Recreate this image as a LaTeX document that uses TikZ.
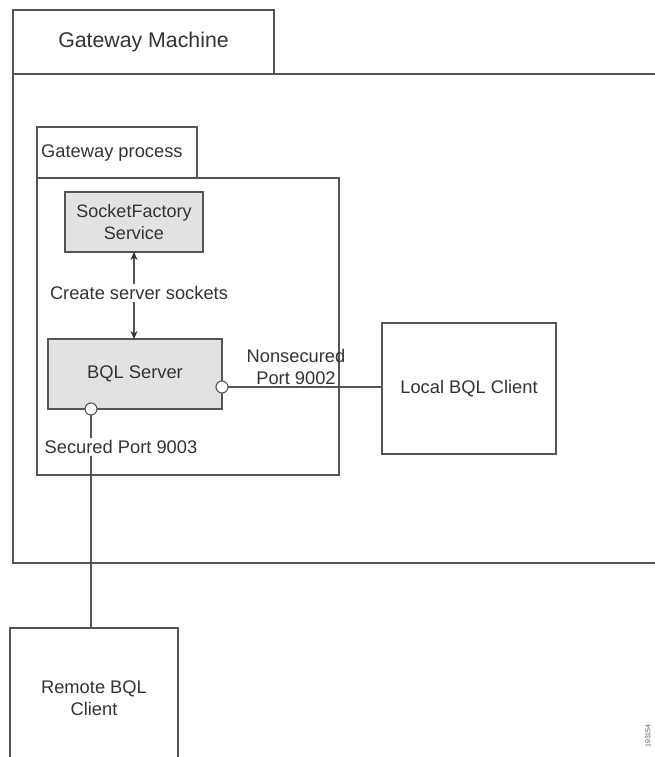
\documentclass[tikz,border=0pt]{standalone}
\usepackage{fontspec}
\setmainfont{Liberation Sans}
\usetikzlibrary{arrows.meta}
\definecolor{txt}{HTML}{333333}
\definecolor{ln}{HTML}{555555}
\definecolor{boxfill}{HTML}{E2E2E2}
\begin{document}
\begin{tikzpicture}[x=1pt,y=-1pt,
  every node/.style={text=txt,font=\fontsize{18.3}{22}\selectfont},
  frame/.style={draw=ln,line width=1.2pt},
  box/.style={draw=ln,line width=1.2pt,anchor=north west,inner sep=0pt,outer sep=0pt,align=center},
  grey/.style={box,fill=boxfill},
  port/.style={circle,draw=ln,fill=white,line width=1.1pt,minimum size=12pt,inner sep=0pt,outer sep=0pt},
  conn/.style={draw=ln,line width=1.1pt},
  tip/.style={-{Stealth[length=8pt,width=7pt,color=txt]}},
  lbl/.style={inner sep=2pt,align=center}]
\useasboundingbox (0,0) rectangle (654,757);
% Gateway machine frame
\node[box,minimum width=261pt,minimum height=64pt,font=\fontsize{21.3}{25}\selectfont] (gmtab) at (13,10) {Gateway Machine};
\draw[frame] (gmtab.south west) -- (13,563) -- (660,563);
\draw[frame] (gmtab.south east) -- (660,74);
% Gateway process frame
\node[box,minimum width=160pt,minimum height=51pt] (gptab) at (37,127) {};
\node[anchor=west,inner sep=0pt] (gplabel) at (41,153) {Gateway process};
\draw[frame] (gptab.south west) -- (37,475) -- (339,475) -- (339,178) -- (gptab.south east);
% boxes
\node[grey,minimum width=138pt,minimum height=60pt,font=\fontsize{18}{22}\selectfont] (sf) at (65,192) {SocketFactory\\Service};
\node[grey,minimum width=174pt,minimum height=70pt] (bql) at (48,339) {BQL Server};
\node[box,minimum width=174pt,minimum height=131pt] (local) at (382,323) {Local BQL Client};
\node[box,minimum width=168pt,minimum height=140pt] (remote) at (10,628) {};
\node[lbl] (remotelbl) at (94,698) {Remote BQL\\Client};
% create server sockets
\node[lbl] (css) at (139,293) {Create server sockets};
\coordinate (cssup) at (css.north -| sf.south);
\coordinate (cssdn) at (css.south -| sf.south);
\draw[conn,tip] (cssup) -- (sf.south);
\draw[conn,tip] (cssdn) -- (cssdn |- bql.north);
% ports
\node[port] (pn) at (222,387) {};
\node[port] (ps) at (91,409) {};
\draw[conn] (pn.east) -- (pn.east -| local.west);
\node[lbl] (nslbl) at (296,367) {Nonsecured\\Port 9002};
\node[lbl] (sslbl) at (121,447) {Secured Port 9003};
\draw[conn] (ps.south) -- (ps |- sslbl.north);
\draw[conn] (ps |- sslbl.south) -- (ps |- remote.north);
% figure number
\node[rotate=90,inner sep=0pt,font=\fontsize{7}{8}\selectfont,text=txt!80] (fignum) at (648,736) {193154};
\end{tikzpicture}
\end{document}
